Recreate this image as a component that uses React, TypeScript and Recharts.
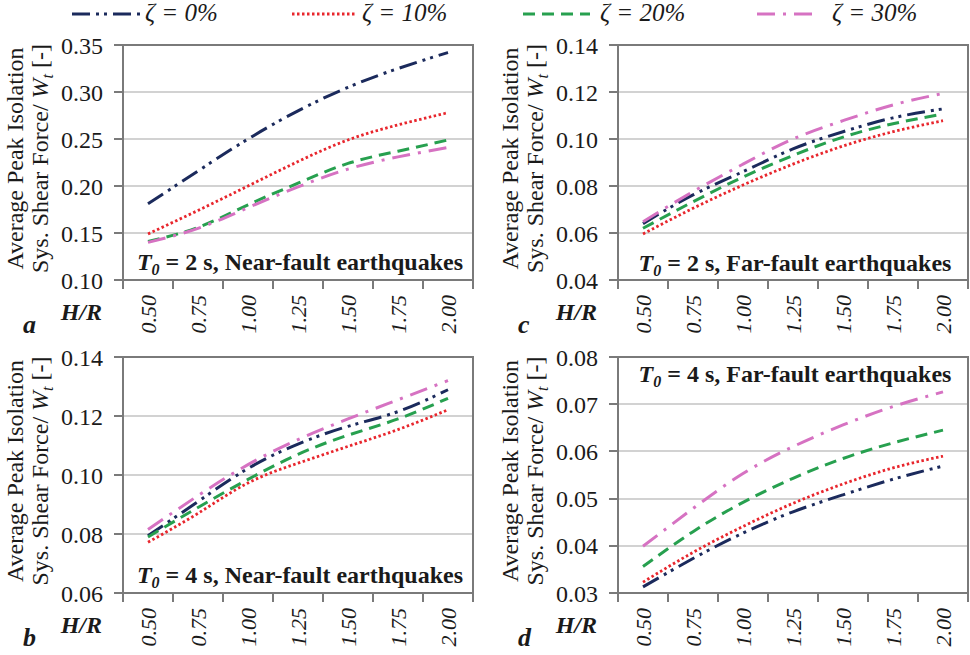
import React from 'react';
import { LineChart, Line, XAxis, YAxis } from 'recharts';

// ---------- data ----------
const hrValues = [0.5, 0.75, 1.0, 1.25, 1.5, 1.75, 2.0];
const hrBoundaries = [0.375, 0.625, 0.875, 1.125, 1.375, 1.625, 1.875, 2.125];
const zetaKeys = ['z0', 'z10', 'z20', 'z30'];
const zetaNums = ['0%', '10%', '20%', '30%'];

// Panel a: T0 = 2 s, near-fault
const aZeta0 = [0.181, 0.216, 0.250, 0.280, 0.305, 0.325, 0.342];
const aZeta10 = [0.149, 0.174, 0.200, 0.226, 0.249, 0.265, 0.278];
const aZeta20 = [0.141, 0.156, 0.180, 0.203, 0.224, 0.237, 0.249];
const aZeta30 = [0.140, 0.155, 0.177, 0.199, 0.218, 0.231, 0.241];
const aTicks = [0.10, 0.15, 0.20, 0.25, 0.30, 0.35];

// Panel b: T0 = 4 s, near-fault
const bZeta0 = [0.0794, 0.091, 0.1022, 0.1105, 0.1165, 0.1215, 0.1289];
const bZeta10 = [0.0772, 0.0870, 0.0973, 0.1040, 0.1097, 0.1154, 0.1221];
const bZeta20 = [0.079, 0.089, 0.0985, 0.107, 0.1135, 0.119, 0.126];
const bZeta30 = [0.0815, 0.093, 0.1035, 0.112, 0.119, 0.1255, 0.132];
const bTicks = [0.06, 0.08, 0.10, 0.12, 0.14];

// Panel c: T0 = 2 s, far-fault
const cZeta0 = [0.064, 0.0762, 0.0861, 0.0958, 0.1031, 0.1090, 0.1128];
const cZeta10 = [0.0596, 0.0705, 0.0804, 0.0893, 0.0970, 0.1031, 0.1078];
const cZeta20 = [0.062, 0.0733, 0.0838, 0.0930, 0.1008, 0.1065, 0.1106];
const cZeta30 = [0.0648, 0.0776, 0.0893, 0.1000, 0.1078, 0.1145, 0.1194];
const cTicks = [0.04, 0.06, 0.08, 0.10, 0.12, 0.14];

// Panel d: T0 = 4 s, far-fault
const dZeta0 = [0.0313, 0.0373, 0.0427, 0.0472, 0.0508, 0.0541, 0.0569];
const dZeta10 = [0.0323, 0.0386, 0.0441, 0.0490, 0.0531, 0.0565, 0.0590];
const dZeta20 = [0.0356, 0.0430, 0.0492, 0.0543, 0.0585, 0.0618, 0.0645];
const dZeta30 = [0.0399, 0.0479, 0.0553, 0.0610, 0.0656, 0.0695, 0.0726];
const dTicks = [0.03, 0.04, 0.05, 0.06, 0.07, 0.08];

// ---------- styles ----------
const SERIF = "'Liberation Serif', 'Times New Roman', Times, serif";
const seriesStyles = [
  { color: '#1b2a5c', dash: '18 6 3 5 3 6', width: 3 },
  { color: '#e8262d', dash: '2.5 2.5', width: 2.8 },
  { color: '#27a04f', dash: '12 7', width: 3 },
  { color: '#d672c2', dash: '18 8 3 8', width: 3 },
];
const BORDER = '#7a7a7a';
const GRID = '#d2d2d2';

function buildRows(series: number[][]) {
  return hrValues.map((hr, i) => {
    const row: Record<string, number> = { hr };
    zetaKeys.forEach((k, s) => {
      row[k] = series[s][i];
    });
    return row;
  });
}

const renderXTick = (props: any) => {
  const { x, y, payload } = props;
  return (
    <g transform={`translate(${x},${y}) rotate(-90)`}>
      <text
        x={-15}
        y={0}
        textAnchor="end"
        dominantBaseline="central"
        fontFamily={SERIF}
        fontStyle="italic"
        fontSize={22}
        fill="#1a1a1a"
      >
        {Number(payload.value).toFixed(2)}
      </text>
    </g>
  );
};

type PanelProps = {
  left: number;
  top: number;
  width: number;
  height: number;
  margin: { top: number; right: number; bottom: number; left: number };
  yAxisWidth: number;
  ticks: number[];
  series: number[][];
};

function Panel({ left, top, width, height, margin, yAxisWidth, ticks, series }: PanelProps) {
  const data = buildRows(series);
  const domain = [ticks[0], ticks[ticks.length - 1]];
  const xDomain = [hrBoundaries[0], hrBoundaries[hrBoundaries.length - 1]];
  return (
    <div style={{ position: 'absolute', left, top, width, height, zIndex: 2 }}>
      <LineChart width={width} height={height} data={data} margin={margin} style={{ overflow: 'visible' }}>
        <XAxis
          type="number"
          dataKey="hr"
          domain={xDomain}
          ticks={hrValues}
          interval={0}
          height={1}
          tickSize={0}
          tickMargin={0}
          axisLine={false}
          tickLine={false}
          tick={renderXTick}
        />
        <YAxis
          type="number"
          domain={domain}
          ticks={ticks}
          interval={0}
          width={yAxisWidth}
          tickSize={8}
          tickMargin={12}
          tickFormatter={(v: number) => v.toFixed(2)}
          tick={{ fontFamily: SERIF, fontSize: 24, fill: '#1a1a1a', stroke: 'none' }}
          tickLine={false}
          axisLine={false}
        />
        {zetaKeys.map((k, s) => (
          <Line
            key={k}
            dataKey={k}
            type="natural"
            stroke={seriesStyles[s].color}
            strokeWidth={seriesStyles[s].width}
            strokeDasharray={seriesStyles[s].dash}
            dot={false}
            activeDot={false}
            isAnimationActive={false}
          />
        ))}
      </LineChart>
    </div>
  );
}

// panel geometry (plot area) for frame and overlay text
const panels = [
  { id: 'a', ticks: aTicks, plotLeft: 123, plotRight: 473, plotTop: 45, plotBottom: 280, title: ['2', 'Near-fault earthquakes'], titleY: 270 },
  { id: 'c', ticks: cTicks, plotLeft: 618, plotRight: 968, plotTop: 45, plotBottom: 280, title: ['2', 'Far-fault earthquakes'], titleY: 271 },
  { id: 'b', ticks: bTicks, plotLeft: 123, plotRight: 473, plotTop: 357, plotBottom: 593, title: ['4', 'Near-fault earthquakes'], titleY: 583 },
  { id: 'd', ticks: dTicks, plotLeft: 618, plotRight: 968, plotTop: 357, plotBottom: 593, title: ['4', 'Far-fault earthquakes'], titleY: 382 },
];

const legendPos = [
  { x1: 72, x2: 140, tx: 145 },
  { x1: 292, x2: 355, tx: 362 },
  { x1: 523, x2: 590, tx: 600 },
  { x1: 757, x2: 817, tx: 832 },
];

function yScaleOf(p: (typeof panels)[number]) {
  const t0 = p.ticks[0];
  const t1 = p.ticks[p.ticks.length - 1];
  return (v: number) => p.plotBottom - ((v - t0) / (t1 - t0)) * (p.plotBottom - p.plotTop);
}
function xScaleOf(p: (typeof panels)[number]) {
  const b0 = hrBoundaries[0];
  const b1 = hrBoundaries[hrBoundaries.length - 1];
  return (v: number) => p.plotLeft + ((v - b0) / (b1 - b0)) * (p.plotRight - p.plotLeft);
}

// Grid lines as thin filled boxes (drawn under the charts)
function GridLayer() {
  const boxes: React.ReactNode[] = [];
  panels.forEach((p) => {
    const yOf = yScaleOf(p);
    p.ticks.forEach((t) => {
      boxes.push(
        <div
          key={`g${p.id}${t}`}
          style={{
            position: 'absolute',
            left: p.plotLeft,
            top: Math.round(yOf(t)) - 1,
            width: p.plotRight - p.plotLeft,
            height: 2,
            background: GRID,
          }}
        />
      );
    });
  });
  return <div style={{ position: 'absolute', left: 0, top: 0, width: 970, height: 655, zIndex: 1 }}>{boxes}</div>;
}

// Frame and tick marks as thin filled boxes (drawn over the charts)
function FrameLayer() {
  const boxes: React.ReactNode[] = [];
  panels.forEach((p) => {
    const yOf = yScaleOf(p);
    const xOf = xScaleOf(p);
    const w = p.plotRight - p.plotLeft;
    const h = p.plotBottom - p.plotTop;
    const add = (key: string, left: number, top: number, width: number, height: number) =>
      boxes.push(
        <div key={key} style={{ position: 'absolute', left, top, width, height, background: BORDER }} />
      );
    add(`top${p.id}`, p.plotLeft - 1, p.plotTop - 1, w + 2, 2);
    add(`bot${p.id}`, p.plotLeft - 1, p.plotBottom - 1, w + 2, 2);
    add(`lef${p.id}`, p.plotLeft - 1, p.plotTop - 1, 2, h + 2);
    add(`rig${p.id}`, p.plotRight - 1, p.plotTop - 1, 2, h + 2);
    p.ticks.forEach((t) => add(`yt${p.id}${t}`, p.plotLeft - 9, Math.round(yOf(t)) - 1, 8, 2));
    hrBoundaries.forEach((b) => add(`xt${p.id}${b}`, Math.round(xOf(b)) - 1, p.plotBottom + 1, 2, 8));
  });
  return (
    <div style={{ position: 'absolute', left: 0, top: 0, width: 970, height: 655, zIndex: 3, pointerEvents: 'none' }}>
      {boxes}
    </div>
  );
}

function TextLayer() {
  return (
    <svg
      width={970}
      height={655}
      style={{ position: 'absolute', left: 0, top: 0, pointerEvents: 'none', zIndex: 4 }}
      fontFamily={SERIF}
    >
      {legendPos.map((p, i) => (
        <g key={i}>
          <line
            x1={p.x1}
            x2={p.x2}
            y1={14}
            y2={14}
            stroke={seriesStyles[i].color}
            strokeWidth={seriesStyles[i].width}
            strokeDasharray={seriesStyles[i].dash}
          />
          <text x={p.tx} y={21} fontSize={25} fontStyle="italic" fill="#1a1a1a">
            ζ = {zetaNums[i]}
          </text>
        </g>
      ))}
      {panels.map((p) => {
        const cy = (p.plotTop + p.plotBottom) / 2 - 4;
        const cx = (p.plotLeft + p.plotRight) / 2;
        return (
          <g key={p.id}>
            <text
              transform={`translate(${p.plotLeft - 100},${cy}) rotate(-90)`}
              textAnchor="middle"
              fontSize={24}
              fill="#1a1a1a"
            >
              Average Peak Isolation
            </text>
            <text
              transform={`translate(${p.plotLeft - 75},${cy}) rotate(-90)`}
              textAnchor="middle"
              fontSize={24}
              fill="#1a1a1a"
            >
              Sys. Shear Force/ <tspan fontStyle="italic">W</tspan>
              <tspan fontStyle="italic" fontSize={16} dy={5}>t</tspan>
              <tspan dy={-5}> [-]</tspan>
            </text>
            <text
              x={p.plotLeft - 21}
              y={p.plotBottom + 40}
              textAnchor="end"
              fontSize={24}
              fontWeight="bold"
              fontStyle="italic"
              fill="#1a1a1a"
            >
              H/R
            </text>
            <text
              x={p.plotLeft - 100}
              y={p.plotBottom + 53}
              fontSize={26}
              fontWeight="bold"
              fontStyle="italic"
              fill="#1a1a1a"
            >
              {p.id}
            </text>
            <text
              x={cx + 2}
              y={p.titleY}
              textAnchor="middle"
              fontSize={24}
              fontWeight="bold"
              fill="#1a1a1a"
            >
              <tspan fontStyle="italic">T</tspan>
              <tspan fontStyle="italic" fontSize={16} dy={5}>0</tspan>
              <tspan dy={-5}> = {p.title[0]} s, {p.title[1]}</tspan>
            </text>
          </g>
        );
      })}
    </svg>
  );
}

export default function App() {
  return (
    <div
      style={{
        position: 'fixed',
        left: 0,
        top: 0,
        width: 970,
        height: 655,
        background: '#ffffff',
        overflow: 'hidden',
      }}
    >
      <GridLayer />
      <Panel
        left={0}
        top={0}
        width={485}
        height={345}
        margin={{ top: 45, right: 12, bottom: 64, left: 0 }}
        yAxisWidth={123}
        ticks={aTicks}
        series={[aZeta0, aZeta10, aZeta20, aZeta30]}
      />
      <Panel
        left={485}
        top={0}
        width={485}
        height={345}
        margin={{ top: 45, right: 2, bottom: 64, left: 0 }}
        yAxisWidth={133}
        ticks={cTicks}
        series={[cZeta0, cZeta10, cZeta20, cZeta30]}
      />
      <Panel
        left={0}
        top={330}
        width={485}
        height={325}
        margin={{ top: 27, right: 12, bottom: 61, left: 0 }}
        yAxisWidth={123}
        ticks={bTicks}
        series={[bZeta0, bZeta10, bZeta20, bZeta30]}
      />
      <Panel
        left={485}
        top={330}
        width={485}
        height={325}
        margin={{ top: 27, right: 2, bottom: 61, left: 0 }}
        yAxisWidth={133}
        ticks={dTicks}
        series={[dZeta0, dZeta10, dZeta20, dZeta30]}
      />
      <FrameLayer />
      <TextLayer />
    </div>
  );
}
